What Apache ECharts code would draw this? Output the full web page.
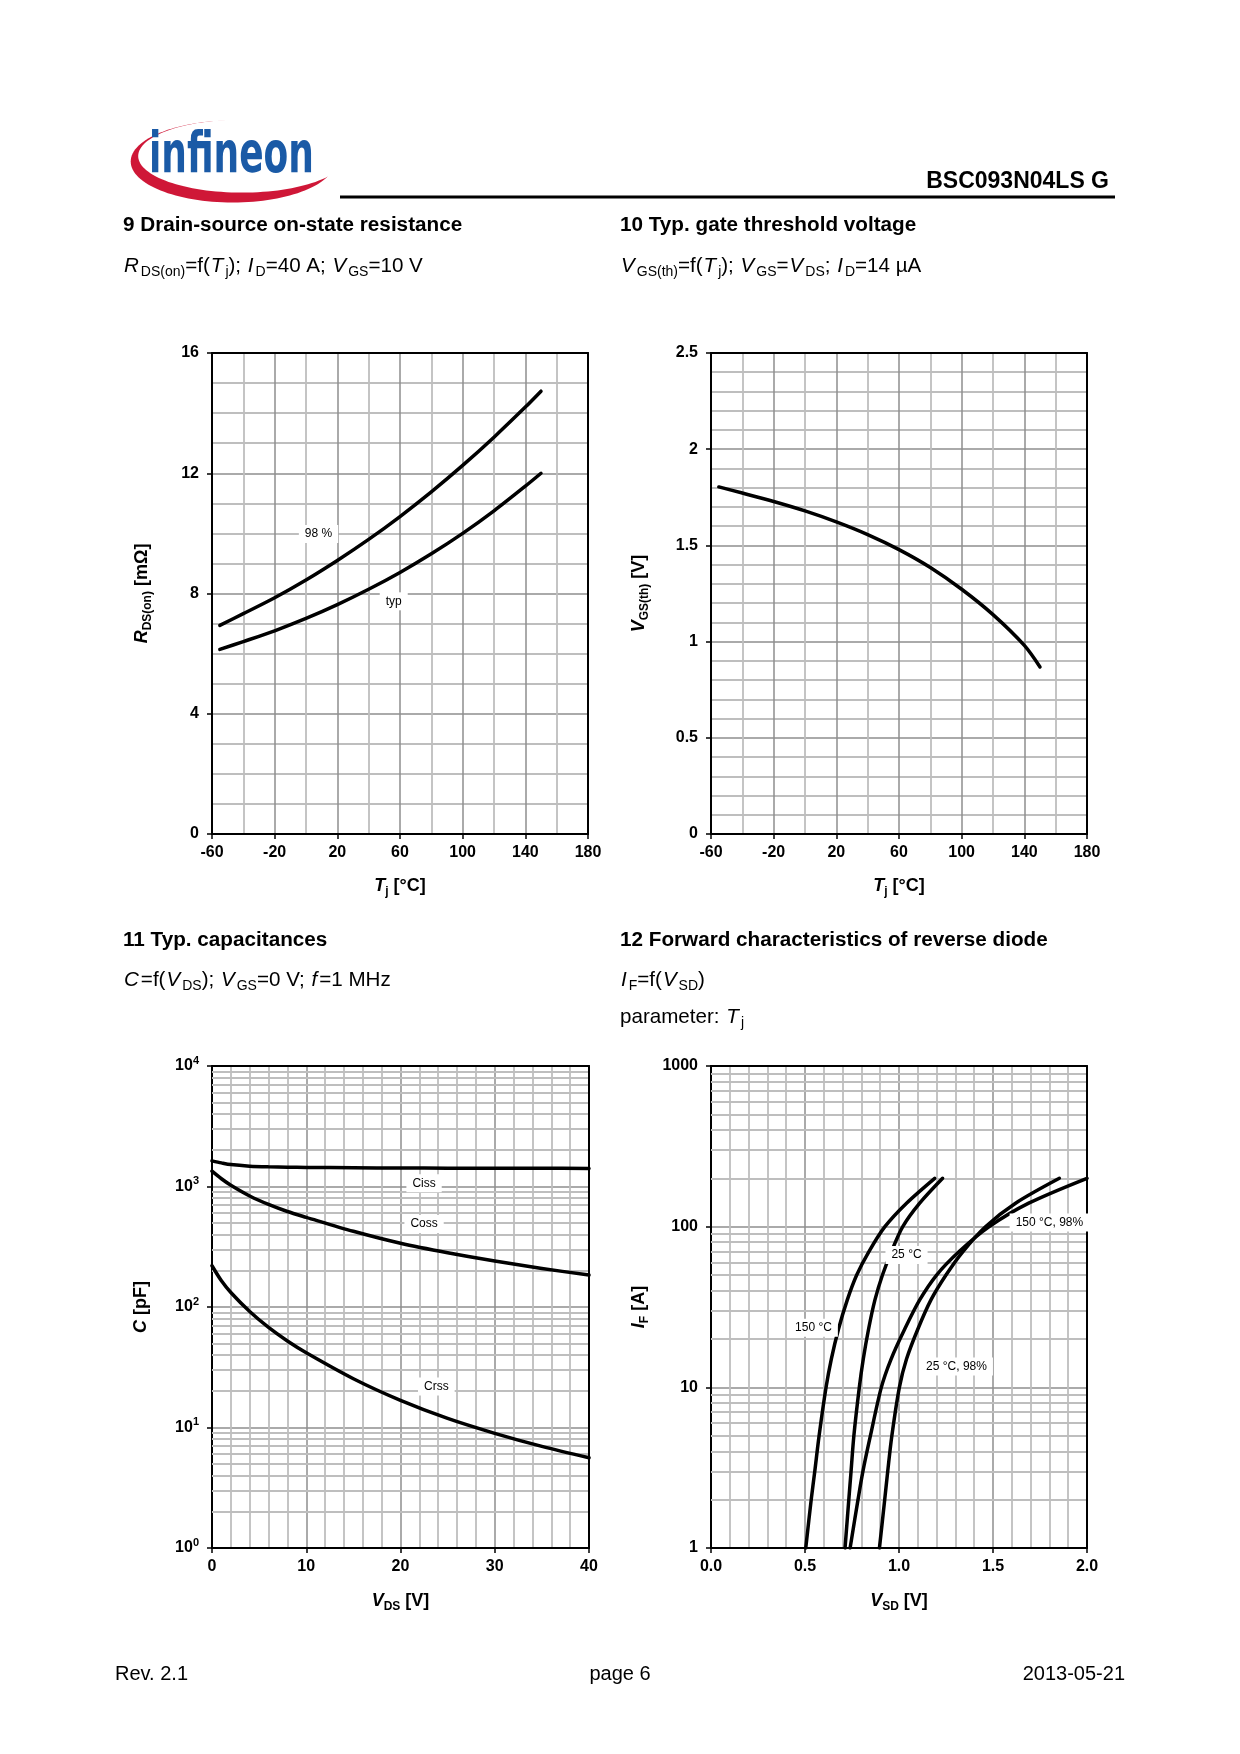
<!DOCTYPE html>
<html><head><meta charset="utf-8">
<script src="https://cdn.jsdelivr.net/npm/echarts@6.0.0/dist/echarts.min.js"></script>
<style>html,body{margin:0;padding:0;background:#fff}#c{width:1240px;height:1754px}</style>
</head><body><div id="c"></div>
<script>
// ---------- data ----------
// 9: RDS(on) vs Tj
const tjRds = [-55, -40, -20, 0, 20, 40, 60, 80, 100, 120, 140, 150];
const rds98 = [6.94, 7.33, 7.86, 8.45, 9.1, 9.8, 10.56, 11.38, 12.26, 13.2, 14.2, 14.73];
const rdsTyp = [6.14, 6.4, 6.76, 7.17, 7.63, 8.14, 8.7, 9.32, 10.0, 10.75, 11.57, 12.0];
// 10: VGS(th) vs Tj
const tjVth = [-55, -40, -20, 0, 20, 40, 60, 80, 100, 120, 140, 150];
const vgsTh = [1.804, 1.772, 1.728, 1.679, 1.622, 1.556, 1.478, 1.385, 1.272, 1.14, 0.98, 0.868];
// 11: capacitances vs VDS
const vds = [0, 1, 2, 4, 6, 8, 10, 15, 20, 25, 30, 35, 40];
const ciss = [1632, 1570, 1520, 1475, 1455, 1445, 1440, 1430, 1425, 1420, 1418, 1415, 1413];
const coss = [1340, 1160, 1025, 835, 710, 620, 555, 425, 338, 282, 241, 209, 184];
const crss = [220, 165, 132, 91.6, 67.6, 52.2, 41.7, 25.4, 16.8, 11.9, 8.95, 6.97, 5.61];
// 12: diode forward characteristics
const ifCurrent = [1, 2, 3, 5, 10, 15, 23, 35, 50, 70, 100, 140, 200];
const vsd150 = [0.504, 0.533, 0.552, 0.575, 0.612, 0.64, 0.678, 0.725, 0.775, 0.84, 0.925, 1.04, 1.19];
const vsd25 = [0.713, 0.733, 0.745, 0.76, 0.789, 0.81, 0.838, 0.872, 0.912, 0.96, 1.02, 1.11, 1.232];
const vsd150max = [0.74, 0.782, 0.808, 0.848, 0.906, 0.958, 1.03, 1.11, 1.2, 1.32, 1.48, 1.69, 2.0];
const vsd25max = [0.896, 0.924, 0.94, 0.962, 1.002, 1.04, 1.1, 1.17, 1.25, 1.34, 1.46, 1.62, 1.853];
// curve label texts
const rdsLabelText = ['98 %', 'typ'];
const capLabelText = ['Ciss', 'Coss', 'Crss'];
const diodeLabelText = ['150 °C, 98%', '25 °C', '150 °C', '25 °C, 98%'];
// label anchor points (data coordinates)
const rdsLabelAt = [[8, 9.98], [56, 7.74]];
const capLabelAt = [[22.5, 1065], [22.5, 488], [23.8, 21.9]];
const diodeLabelAt = [[1.8, 106], [1.04, 66.6], [0.545, 23.5], [1.306, 13.5]];
// log-axis minor grid values
const capDecades = [1, 10, 100, 1000];
const diodeDecades = [1, 10, 100];
const minorMult = [2, 3, 4, 5, 6, 7, 8, 9];

// ---------- helpers ----------
const FF = "'Liberation Sans', Arial, Helvetica, sans-serif";
const BLACK = '#000', MAJOR = '#8e8e8e', MINOR = '#bebebe';
const pairs = (xs, ys) => xs.map((x, i) => [x, ys[i]]);
const minorOf = decs => { const r = []; decs.forEach(d => minorMult.forEach(m => r.push(d * m))); return r; };

function rich(size, weight, sub, padI) {
  return {
    i: {fontFamily: FF, fontSize: size, fontWeight: weight, fontStyle: 'italic', color: BLACK, lineHeight: size + 6, padding: padI ? [0, 2, 0, 1] : 0},
    s: {fontFamily: FF, fontSize: sub, fontWeight: weight, fontStyle: 'normal', color: BLACK, lineHeight: sub + 2, verticalAlign: 'bottom'}
  };
}
const nameStyle = {fontFamily: FF, fontSize: 18, fontWeight: 'bold', color: BLACK, lineHeight: 24, rich: rich(18, 'bold', 12, false)};
const labelStyle = {color: BLACK, fontSize: 16, fontWeight: 'bold', fontFamily: FF};

function mainAxis(grid, pos, c) {
  const isX = pos === 'bottom';
  const a = {
    type: c.type || 'value', gridIndex: grid, position: pos,
    min: c.min, max: c.max,
    name: c.name, nameLocation: 'middle', nameGap: c.nameGap, nameTextStyle: nameStyle,
    axisLine: {show: true, onZero: false, lineStyle: {color: BLACK, width: 2}},
    axisTick: {show: true, length: 5, lineStyle: {color: BLACK, width: 1.5}},
    axisLabel: Object.assign({margin: isX ? 11 : 13, formatter: c.fmt}, labelStyle, c.labelExtra || {}),
    splitLine: {show: true, showMinLine: false, showMaxLine: false, lineStyle: {color: MAJOR, width: 1.5}},
    z: 0
  };
  if (c.type === 'log') { a.logBase = 10; }
  else {
    a.interval = c.interval;
    a.minorTick = {show: false, splitNumber: c.minor};
    a.minorSplitLine = {show: true, lineStyle: {color: MINOR, width: 1.8}};
  }
  return a;
}
function frameAxis(grid, pos) {
  return {type: 'value', gridIndex: grid, position: pos, min: 0, max: 1,
    axisLine: {show: true, onZero: false, lineStyle: {color: BLACK, width: 2}},
    axisTick: {show: false}, axisLabel: {show: false}, splitLine: {show: false}, z: 1};
}
function curve(xi, data, marks) {
  const s = {type: 'line', xAxisIndex: xi, yAxisIndex: xi, data: data, smooth: 0.3,
    symbol: 'none', showSymbol: false, silent: true, z: 2,
    lineStyle: {color: BLACK, width: 3.5, cap: 'round', join: 'round'}, emphasis: {disabled: true}};
  if (marks) Object.assign(s, marks);
  return s;
}
function labelMarks(texts, at) {
  return {z: 20, silent: true, symbol: 'rect', symbolSize: 1, itemStyle: {color: 'rgba(0,0,0,0)'},
    label: {show: true, position: 'inside', formatter: '{b}', color: BLACK, fontFamily: FF, fontSize: 12,
      backgroundColor: '#fff', padding: [3, 6]},
    data: texts.map((t, i) => ({name: t, coord: at[i]}))};
}
function minorLines(vals) {
  return {z: 1, silent: true, symbol: ['none', 'none'], label: {show: false},
    lineStyle: {color: MINOR, width: 1.8, type: 'solid'}, emphasis: {disabled: true},
    data: vals.map(v => ({yAxis: v}))};
}
const supFmt = v => '10{p|' + Math.round(Math.log10(v)) + '}';

function title(text, pos, size, weight, lh, padI) {
  return Object.assign({text: text, padding: 0, itemGap: 0,
    textStyle: {fontFamily: FF, fontSize: size, fontWeight: weight, color: BLACK, lineHeight: lh,
      rich: rich(size, weight, Math.round(size * 0.7), padI)}}, pos);
}

// ---------- option ----------
const option = {
  animation: false,
  backgroundColor: '#fff',
  title: [
    title('BSC093N04LS G', {right: 131, top: 169}, 23, 'bold', 26),
    title('9 Drain-source on-state resistance', {left: 123, top: 213}, 20.7, 'bold', 24),
    title('{i|R}{s|DS(on)}=f({i|T}{s|j}); {i|I}{s|D}=40 A; {i|V}{s|GS}=10 V', {left: 123, top: 253}, 20.6, 'normal', 26, true),
    title('10 Typ. gate threshold voltage', {left: 620, top: 213}, 20.7, 'bold', 24),
    title('{i|V}{s|GS(th)}=f({i|T}{s|j}); {i|V}{s|GS}={i|V}{s|DS}; {i|I}{s|D}=14 µA', {left: 620, top: 253}, 20.6, 'normal', 26, true),
    title('11 Typ. capacitances', {left: 123, top: 928}, 20.7, 'bold', 24),
    title('{i|C}=f({i|V}{s|DS}); {i|V}{s|GS}=0 V; {i|f}=1 MHz', {left: 123, top: 967}, 20.6, 'normal', 26, true),
    title('12 Forward characteristics of reverse diode', {left: 620, top: 928}, 20.7, 'bold', 24),
    title('{i|I}{s|F}=f({i|V}{s|SD})', {left: 620, top: 967}, 20.6, 'normal', 26, true),
    title('parameter: {i|T}{s|j}', {left: 620, top: 1004}, 20.6, 'normal', 26, true),
    title('Rev. 2.1', {left: 115, top: 1662}, 20, 'normal', 24),
    title('page 6', {left: 'center', top: 1662}, 20, 'normal', 24),
    title('2013-05-21', {right: 115, top: 1662}, 20, 'normal', 24)
  ],
  graphic: {elements: [
    {type: 'ellipse', shape: {cx: 232.7, cy: 161.5, rx: 102, ry: 41}, style: {fill: '#cf1737'}, silent: true},
    {type: 'ellipse', shape: {cx: 242, cy: 156, rx: 103.8, ry: 36.6}, style: {fill: '#fff'}, silent: true},
    {type: 'text', x: 149, y: 157, scaleX: 0.74, scaleY: 1.05, silent: true,
      style: {x: 0, y: 0, text: 'infineon', font: "bold 54px 'Liberation Sans Narrow', 'DejaVu Sans Condensed', 'Liberation Sans', sans-serif",
        fill: '#1a5aa6', align: 'left', verticalAlign: 'middle'}},
    {type: 'line', shape: {x1: 340, y1: 197, x2: 1115, y2: 197}, style: {stroke: BLACK, lineWidth: 3}, silent: true}
  ]},
  grid: [
    {left: 212, top: 353, width: 376, height: 481, outerBoundsMode: 'none'},
    {left: 711, top: 353, width: 376, height: 481, outerBoundsMode: 'none'},
    {left: 212, top: 1066, width: 377, height: 482, outerBoundsMode: 'none'},
    {left: 711, top: 1066, width: 376, height: 482, outerBoundsMode: 'none'}
  ],
  xAxis: [
    mainAxis(0, 'bottom', {min: -60, max: 180, interval: 40, minor: 2, name: '{i|T}{s|j} [°C]', nameGap: 40}),
    frameAxis(0, 'top'),
    mainAxis(1, 'bottom', {min: -60, max: 180, interval: 40, minor: 2, name: '{i|T}{s|j} [°C]', nameGap: 40}),
    frameAxis(1, 'top'),
    mainAxis(2, 'bottom', {min: 0, max: 40, interval: 10, minor: 5, name: '{i|V}{s|DS} [V]', nameGap: 41}),
    frameAxis(2, 'top'),
    mainAxis(3, 'bottom', {min: 0, max: 2, interval: 0.5, minor: 5, name: '{i|V}{s|SD} [V]', nameGap: 41, fmt: v => v.toFixed(1)}),
    frameAxis(3, 'top')
  ],
  yAxis: [
    mainAxis(0, 'left', {min: 0, max: 16, interval: 4, minor: 4, name: '{i|R}{s|DS(on)} [mΩ]', nameGap: 58}),
    frameAxis(0, 'right'),
    mainAxis(1, 'left', {min: 0, max: 2.5, interval: 0.5, minor: 5, name: '{i|V}{s|GS(th)} [V]', nameGap: 60}),
    frameAxis(1, 'right'),
    mainAxis(2, 'left', {type: 'log', min: 1, max: 10000, name: '{i|C} [pF]', nameGap: 59, fmt: supFmt,
      labelExtra: {lineHeight: 22, rich: {p: {fontFamily: FF, fontSize: 11, fontWeight: 'bold', color: BLACK, lineHeight: 12, verticalAlign: 'top'}}}}),
    frameAxis(2, 'right'),
    mainAxis(3, 'left', {type: 'log', min: 1, max: 1000, name: '{i|I}{s|F} [A]', nameGap: 60, fmt: v => String(Math.round(v))}),
    frameAxis(3, 'right')
  ],
  series: [
    curve(0, pairs(tjRds, rds98), {markPoint: labelMarks(rdsLabelText.slice(0, 1), rdsLabelAt.slice(0, 1))}),
    curve(0, pairs(tjRds, rdsTyp), {markPoint: labelMarks(rdsLabelText.slice(1), rdsLabelAt.slice(1))}),
    curve(2, pairs(tjVth, vgsTh)),
    curve(4, pairs(vds, ciss), {markLine: minorLines(minorOf(capDecades)), markPoint: labelMarks(capLabelText, capLabelAt)}),
    curve(4, pairs(vds, coss)),
    curve(4, pairs(vds, crss)),
    curve(6, pairs(vsd150, ifCurrent), {markLine: minorLines(minorOf(diodeDecades)), markPoint: labelMarks(diodeLabelText, diodeLabelAt)}),
    curve(6, pairs(vsd25, ifCurrent)),
    curve(6, pairs(vsd150max, ifCurrent)),
    curve(6, pairs(vsd25max, ifCurrent))
  ]
};
const chart = echarts.init(document.getElementById('c'), null, {renderer: 'canvas'});
chart.setOption(option);
</script>
</body></html>
